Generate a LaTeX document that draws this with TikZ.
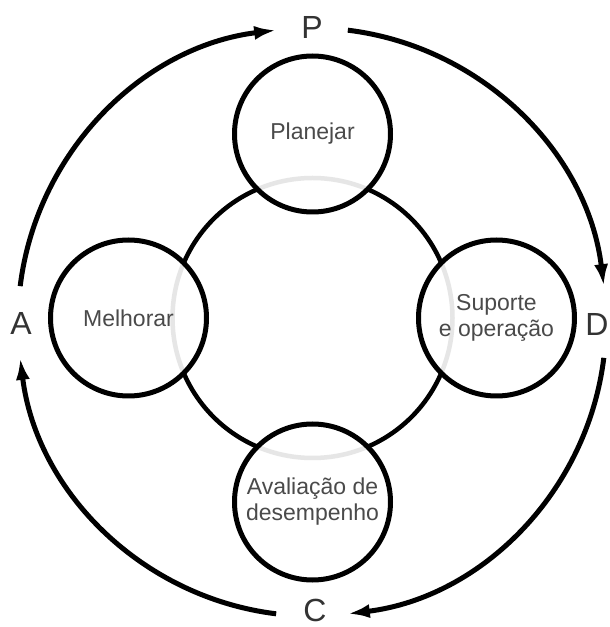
\documentclass[tikz,border=0pt]{standalone}
\usepackage{fontspec}
\newfontfamily\arialf{Liberation Sans}
\usetikzlibrary{arrows.meta}
\definecolor{txtgray}{HTML}{4A4A4A}
\definecolor{lettergray}{HTML}{333333}
\begin{document}
\begin{tikzpicture}[x=1pt,y=1pt,
  phase/.style={circle, draw=black, line width=5pt, fill=white, fill opacity=0.9, text opacity=1,
    minimum size=156pt, inner sep=0pt, align=center, text=txtgray,
    font=\arialf\fontsize{23}{26}\selectfont},
  ringc/.style={circle, draw=black, line width=4.5pt, minimum size=280pt, inner sep=0pt},
  pdca/.style={text=lettergray, font=\arialf\fontsize{32}{36}\selectfont, inner sep=0pt},
  cyc/.style={line width=5pt, -{Latex[length=22pt,width=14pt]}}
]
\useasboundingbox[fill=white] (0,0) rectangle (610,627);
\coordinate (rc) at (312.5,309);
\coordinate (oc) at (312,305);
\node[ringc] (ring) at (rc) {};
\node[phase] (plan) at (312.5,493) {Planejar};
\node[phase] (melh) at (128.5,309) {Melhorar};
\node[phase] (sup) at (496.5,309) {Suporte\\e operação};
\node[phase] (aval) at (312.5,125) {Avaliação de\\desempenho};
\node[pdca] (P) at (312,600) {P};
\node[pdca] (A) at (21,304) {A};
\node[pdca] (D) at (597,303) {D};
\node[pdca] (C) at (315,17) {C};
\coordinate (a1s) at ([shift={(173:294)}]oc);
\coordinate (a2s) at ([shift={(83:294)}]oc);
\coordinate (a3s) at ([shift={(-7:294)}]oc);
\coordinate (a4s) at ([shift={(-97:294)}]oc);
\draw[cyc] (a1s) arc[start angle=173, end angle=97, radius=294];
\draw[cyc] (a2s) arc[start angle=83, end angle=7, radius=294];
\draw[cyc] (a3s) arc[start angle=-7, end angle=-83, radius=294];
\draw[cyc] (a4s) arc[start angle=-97, end angle=-173, radius=294];
\end{tikzpicture}
\end{document}
